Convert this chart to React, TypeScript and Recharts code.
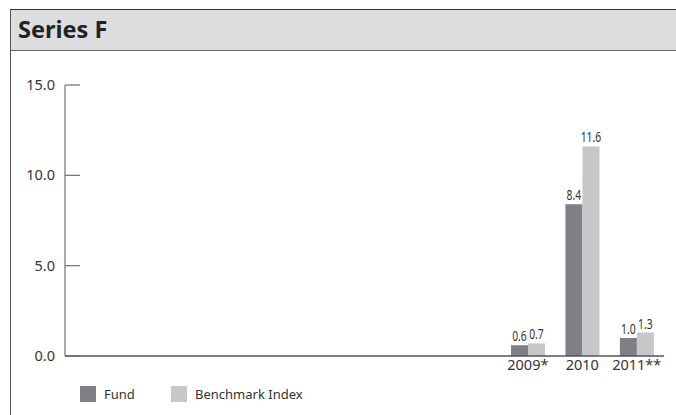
import { BarChart, Bar, XAxis, YAxis, LabelList } from "recharts";

// 11 yearly slots, only the last three carry data
const years = ["", "", "", "", "", "", "", "", "2009*", "2010", "2011**"];
const fund = [null, null, null, null, null, null, null, null, 0.6, 8.4, 1.0];
const benchmark = [null, null, null, null, null, null, null, null, 0.7, 11.6, 1.3];
const yTicks = [0, 5, 10, 15];
const seriesNames = ["Fund", "Benchmark Index"];
const seriesColors = ["#7f7f84", "#c6c7c9"];

const data = years.map((year, i) => ({
  year,
  fund: fund[i],
  benchmark: benchmark[i]
}));

const FONT = "'Noto Sans', 'Open Sans', sans-serif";

function YTick(props: any) {
  const { x, y, payload } = props;
  return (
    <g>
      <line x1={x} y1={y} x2={x + 15} y2={y} stroke="#6f6f6f" strokeWidth={1.2} />
      <text
        x={x - 10}
        y={y}
        dy="0.35em"
        textAnchor="end"
        fill="#333"
        fontSize={14.5}
        fontFamily={FONT}
      >
        {payload.value.toFixed(1)}
      </text>
    </g>
  );
}

// condensed value label above each bar
function ValueLabel(props: any) {
  const { x, y, width, value } = props;
  if (typeof value !== "number") return null;
  const cx = Number(x) + Number(width) / 2;
  const ty = Number(y) - 4;
  return (
    <text
      x={cx}
      y={ty}
      textAnchor="middle"
      fill="#333"
      fontSize={14}
      fontFamily={FONT}
      transform={`translate(${cx} ${ty}) scale(0.74 1) translate(${-cx} ${-ty})`}
    >
      {value.toFixed(1)}
    </text>
  );
}

export default function App() {
  return (
    <div
      style={{
        position: "absolute",
        left: 0,
        top: 0,
        width: 676,
        height: 415,
        overflow: "hidden",
        background: "#fff",
        fontFamily: FONT
      }}
    >
      <div
        style={{
          position: "absolute",
          left: 10,
          top: 9,
          width: 666,
          height: 406,
          boxSizing: "border-box",
          borderLeft: "1.5px solid #555",
          borderTop: "1.5px solid #333"
        }}
      />
      <div
        style={{
          position: "absolute",
          left: 11,
          top: 10,
          width: 665,
          height: 41,
          boxSizing: "border-box",
          background: "#dcdddf",
          borderBottom: "1.5px solid #666"
        }}
      />
      <div
        style={{
          position: "absolute",
          left: 18,
          top: 13,
          fontSize: 23.5,
          fontWeight: 700,
          color: "#222"
        }}
      >
        Series F
      </div>

      <div style={{ position: "absolute", left: 0, top: 0 }}>
        <BarChart
          width={676}
          height={415}
          data={data}
          margin={{ top: 85, right: 12, bottom: 29, left: 5 }}
          barCategoryGap="19%"
          barGap={0}
        >
          <XAxis
            dataKey="year"
            height={30}
            tickLine={false}
            tickSize={0}
            tickMargin={4}
            interval={0}
            axisLine={{ stroke: "#555", strokeWidth: 1.5 }}
            tick={{ fill: "#333", fontSize: 14.5, fontFamily: FONT }}
          />
          <YAxis
            width={60}
            domain={[0, 15]}
            ticks={yTicks}
            tickLine={false}
            tickSize={0}
            tickMargin={0}
            axisLine={{ stroke: "#6f6f6f", strokeWidth: 1.2 }}
            tick={<YTick />}
          />
          <Bar dataKey="fund" fill={seriesColors[0]} isAnimationActive={false}>
            <LabelList dataKey="fund" content={<ValueLabel />} />
          </Bar>
          <Bar dataKey="benchmark" fill={seriesColors[1]} isAnimationActive={false}>
            <LabelList dataKey="benchmark" content={<ValueLabel />} />
          </Bar>
        </BarChart>
      </div>

      {seriesNames.map((name, i) => (
        <div
          key={name}
          style={{
            position: "absolute",
            left: i === 0 ? 80 : 171,
            top: 386,
            display: "flex",
            alignItems: "center",
            height: 16,
            fontSize: 13,
            color: "#333"
          }}
        >
          <span
            style={{
              display: "inline-block",
              width: 16,
              height: 16,
              background: seriesColors[i],
              marginRight: 8
            }}
          />
          {name}
        </div>
      ))}
    </div>
  );
}
